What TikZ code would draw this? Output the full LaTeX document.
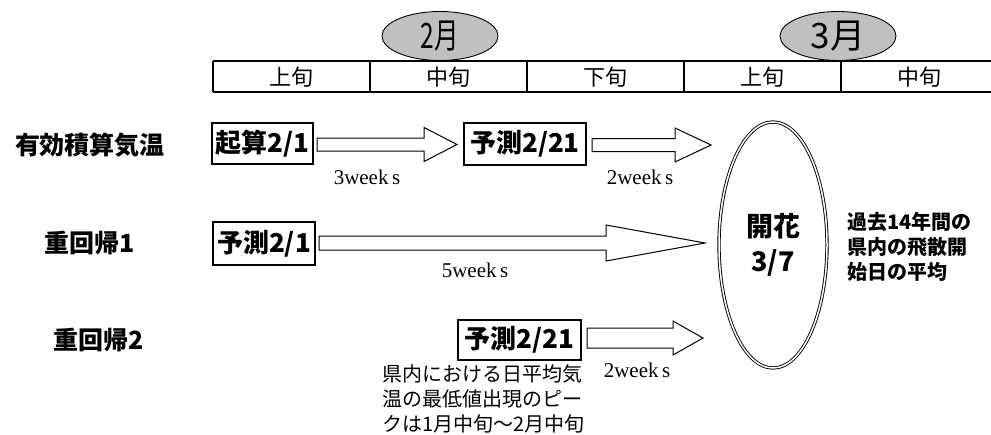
\documentclass[tikz,border=0pt]{standalone}
\usepackage{fontspec}
\usepackage{graphicx}
\setmainfont{Liberation Sans}
\newfontfamily\jp{Noto Sans CJK JP}
\newfontfamily\tms{Liberation Serif}
\usetikzlibrary{shapes.geometric}
\definecolor{monthgray}{RGB}{192,192,192}
\newcommand\barrow[6]{%
  \draw[blockarrow] (#1,#4-#5) -- (#2,#4-#5) -- (#2,#4-#6) -- (#3,#4) -- (#2,#4+#6) -- (#2,#4+#5) -- (#1,#4+#5) -- cycle;}
\begin{document}
\begin{tikzpicture}[x=1pt,y=-1pt,
  monthell/.style={ellipse, draw, fill=monthgray, line width=0.9pt, minimum width=116pt, minimum height=49pt, inner sep=0pt, font=\jp\fontsize{35}{36}\selectfont},
  tableline/.style={line width=1.3pt},
  celltext/.style={font=\jp\fontsize{22}{24}\selectfont, inner sep=0pt},
  rowlabel/.style={font=\jp\bfseries\fontsize{25}{28}\selectfont, inner sep=0pt},
  datebox/.style={draw, line width=1.2pt, font=\jp\bfseries\fontsize{26}{28}\selectfont, inner sep=0pt},
  blockarrow/.style={draw, line width=1pt, fill=white, line join=miter},
  weeks/.style={font=\tms\fontsize{21}{22}\selectfont, inner sep=0pt},
  note/.style={font=\jp\bfseries\fontsize{20}{25}\selectfont, align=left, inner sep=0pt},
  notelight/.style={font=\jp\fontsize{20}{25}\selectfont, align=left, inner sep=0pt},
  bloom/.style={ellipse, draw, double, double distance=1.5pt, line width=0.9pt, minimum width=108pt, minimum height=246pt, inner sep=0pt, align=center, font=\jp\bfseries\fontsize{27}{35}\selectfont},
]
\path[use as bounding box] (0,0) rectangle (991,434);

% month ellipses
\node[monthell] (feb) at (440,36) {\scalebox{0.7}[1]{2月}};
\node[monthell] (mar) at (838,36) {3月};

% table
\draw[tableline] (213,61) -- (991,61);
\draw[tableline] (213,92) -- (991,92);
\foreach \xx in {213,370,527,684,841} {\draw[tableline] (\xx,61) -- (\xx,92);}
\node[celltext] (c1) at (291.5,77) {上旬};
\node[celltext] (c2) at (448.5,77) {中旬};
\node[celltext] (c3) at (605.5,77) {下旬};
\node[celltext] (c4) at (762.5,77) {上旬};
\node[celltext] (c5) at (919.5,77) {中旬};

% row labels
\node[rowlabel] (r1) at (90,145) {有効積算気温};
\node[rowlabel] (r2) at (90,243) {重回帰1};
\node[rowlabel] (r3) at (99,340) {重回帰2};

% date boxes
\node[datebox, minimum width=101pt, minimum height=41pt] (b1) at (262.5,143.5) {起算2/1};
\node[datebox, minimum width=122pt, minimum height=42pt] (b2) at (525,144) {予測2/21};
\node[datebox, minimum width=102pt, minimum height=43pt] (b3) at (264,243.5) {予測2/1};
\node[datebox, minimum width=123pt, minimum height=40pt] (b4) at (519.5,340) {予測2/21};

% block arrows
\barrow{317}{424}{457}{144.5}{6.5}{17}
\barrow{592}{675}{711}{145}{6.5}{17}
\barrow{319}{606}{705}{243}{7}{18}
\barrow{587}{673}{703}{338}{10}{17}

% weeks labels
\node[weeks] (w1) at (367,177) {3week\,s};
\node[weeks] (w2) at (640,177) {2week\,s};
\node[weeks] (w3) at (475,270) {5week\,s};
\node[weeks] (w4) at (637,370) {2week\,s};

% bloom ellipse
\node[bloom] (bl) at (773,245) {開花\\3/7};

% notes
\node[note, anchor=west] (n1) at (847,247) {過去14年間の\\県内の飛散開\\始日の平均};
\node[notelight, anchor=north west] (n2) at (382,364) {県内における日平均気\\温の最低値出現のピー\\クは1月中旬～2月中旬};
\end{tikzpicture}
\end{document}
